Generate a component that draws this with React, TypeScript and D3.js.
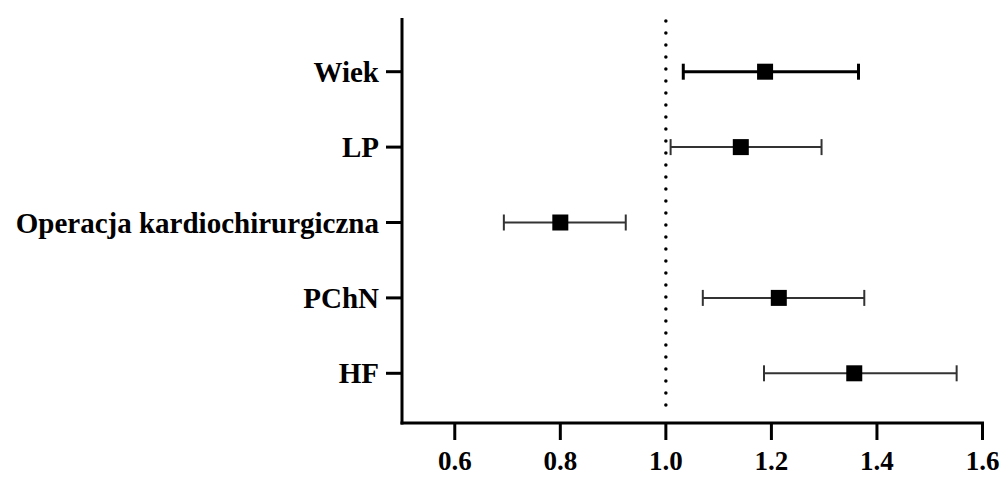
import React from 'react';
import * as d3 from 'd3';

const categories = ['Wiek', 'LP', 'Operacja kardiochirurgiczna', 'PChN', 'HF'];
const estimates = [1.188, 1.142, 0.8, 1.214, 1.357];
const lowerCI = [1.033, 1.009, 0.693, 1.07, 1.186];
const upperCI = [1.365, 1.295, 0.924, 1.376, 1.551];
const xTicks = [0.6, 0.8, 1.0, 1.2, 1.4, 1.6];

const W = 1003;
const H = 477;
const axisLeft = 402;
const axisTop = 18;
const axisBottom = 423;
const font = '"Liberation Serif", "Times New Roman", serif';

function App() {
  const x = d3.scaleLinear().domain([0.5, 1.6]).range([axisLeft, 982.5]);
  const y = d3.scalePoint<string>().domain(categories).range([71.7, 373.3]);

  const rows = categories.map((name, i) => ({
    name,
    est: estimates[i],
    lo: lowerCI[i],
    hi: upperCI[i]
  }));

  return (
    <svg
      width={W}
      height={H}
      style={{ position: 'absolute', left: 0, top: 0, background: '#fff' }}
    >
      {/* reference line at 1.0 */}
      <line
        x1={x(1)}
        x2={x(1)}
        y1={axisTop + 3}
        y2={axisBottom - 6}
        stroke="#000"
        strokeWidth={3.5}
        strokeLinecap="round"
        strokeDasharray="0 12"
      />

      {/* error bars */}
      {rows.map((d, i) => {
        const cy = y(d.name) as number;
        const thick = i === 0;
        const sw = thick ? 3 : 2;
        const col = thick ? '#000' : '#333';
        return (
          <g key={d.name}>
            <line x1={x(d.lo)} x2={x(d.hi)} y1={cy} y2={cy} stroke={col} strokeWidth={sw} />
            <line x1={x(d.lo)} x2={x(d.lo)} y1={cy - 8} y2={cy + 8} stroke={col} strokeWidth={sw} />
            <line x1={x(d.hi)} x2={x(d.hi)} y1={cy - 8} y2={cy + 8} stroke={col} strokeWidth={sw} />
            <rect x={x(d.est) - 8} y={cy - 8} width={16} height={16} fill="#000" />
          </g>
        );
      })}

      {/* y axis */}
      <line x1={axisLeft} x2={axisLeft} y1={axisTop} y2={axisBottom + 1.5} stroke="#000" strokeWidth={3} />
      {categories.map(c => (
        <g key={c}>
          <line
            x1={axisLeft - 16}
            x2={axisLeft}
            y1={y(c)}
            y2={y(c)}
            stroke="#000"
            strokeWidth={3}
          />
          <text
            x={axisLeft - 23}
            y={y(c)}
            textAnchor="end"
            dominantBaseline="central"
            fontFamily={font}
            fontWeight="bold"
            fontSize={29}
            fill="#000"
          >
            {c}
          </text>
        </g>
      ))}

      {/* x axis */}
      <line x1={axisLeft - 1.5} x2={x(1.6) + 1.5} y1={axisBottom} y2={axisBottom} stroke="#000" strokeWidth={3} />
      {xTicks.map(t => (
        <g key={t}>
          <line x1={x(t)} x2={x(t)} y1={axisBottom} y2={axisBottom + 17} stroke="#000" strokeWidth={3} />
          <text
            x={x(t)}
            y={470}
            textAnchor="middle"
            fontFamily={font}
            fontWeight="bold"
            fontSize={27}
            fill="#000"
          >
            {d3.format('.1f')(t)}
          </text>
        </g>
      ))}
    </svg>
  );
}

export default App;
